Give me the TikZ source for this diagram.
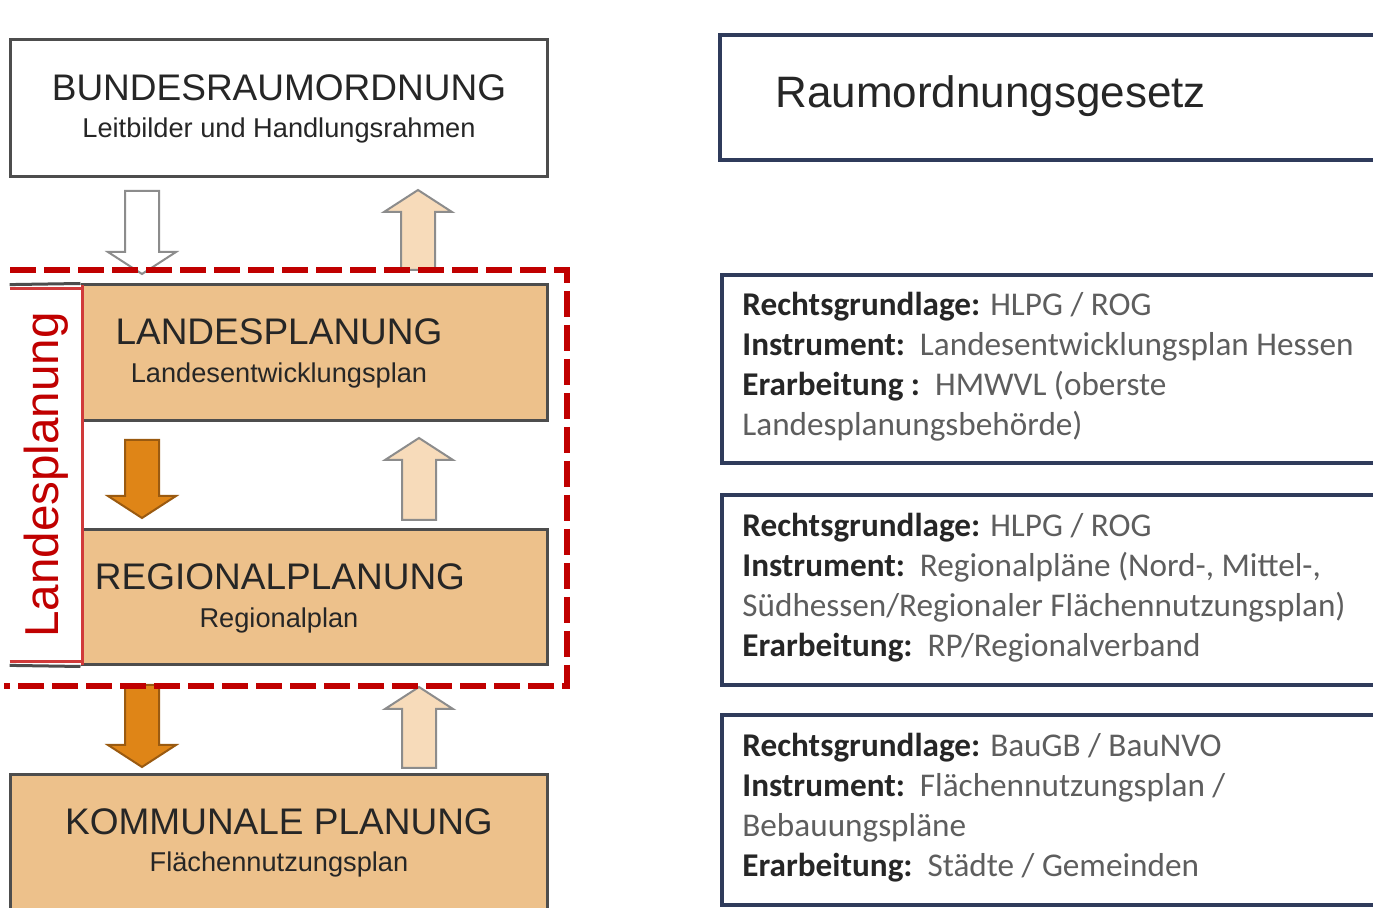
\documentclass[tikz,border=0pt]{standalone}
\usepackage{fontspec}
\setmainfont{Liberation Sans}
\newfontfamily\calfont{Carlito}
\definecolor{tanfill}{HTML}{EDC18B}
\definecolor{boxline}{HTML}{4D4D4D}
\definecolor{orangearr}{HTML}{DF8517}
\definecolor{orangeline}{HTML}{9A5A10}
\definecolor{lighttan}{HTML}{F7DBBA}
\definecolor{arrline}{HTML}{8C8C8C}
\definecolor{dred}{HTML}{C00000}
\definecolor{lred}{HTML}{D03A3A}
\definecolor{navy}{HTML}{2F3B5B}
\definecolor{txtdark}{HTML}{262626}
\definecolor{txtgrey}{HTML}{5E5E5E}
\newcommand{\blkdown}[4]{%
  \draw[#1] ({#2-17},#3) -- ({#2+17},#3) -- ({#2+17},{#4-22}) -- ({#2+34},{#4-22})
    -- (#2,#4) -- ({#2-34},{#4-22}) -- ({#2-17},{#4-22}) -- cycle;}
\newcommand{\blkup}[4]{%
  \draw[#1] ({#2-17},#3) -- ({#2+17},#3) -- ({#2+17},{#4+22}) -- ({#2+34},{#4+22})
    -- (#2,#4) -- ({#2-34},{#4+22}) -- ({#2-17},{#4+22}) -- cycle;}
\begin{document}
\begin{tikzpicture}[x=0.5pt,y=-0.5pt,
  lbox/.style={draw=boxline, line width=1.5pt, inner sep=0pt},
  tanbox/.style={lbox, fill=tanfill},
  title/.style={anchor=base, font=\fontsize{18.5}{20}\selectfont, text=txtdark, inner sep=0pt},
  sub/.style={anchor=base, font=\fontsize{13.6}{15}\selectfont, text=txtdark, inner sep=0pt},
  rbox/.style={draw=navy, line width=2pt, fill=white, inner sep=0pt},
  rline/.style={anchor=base west, inner sep=0pt, font=\calfont\fontsize{16.6}{20}\selectfont, text=txtgrey},
  whitearr/.style={fill=white, draw=arrline, line width=1pt, line join=miter},
  tanarr/.style={fill=lighttan, draw=arrline, line width=1pt, line join=miter},
  orarr/.style={fill=orangearr, draw=orangeline, line width=1pt, line join=miter},
  reddash/.style={draw=dred, line width=3pt, dash pattern=on 13pt off 4pt},
  redline/.style={draw=lred, line width=1.2pt}
]
\useasboundingbox (0,0) rectangle (1373,908);
\clip (0,0) rectangle (1373,908);
\fill[white] (0,0) rectangle (1373,908);

% ---------- left column ----------
\node[lbox, fill=white, minimum width=268.5pt, minimum height=68.5pt] (bund) at (278.5,108.5) {};
\node[title] (bundT) at (279,101) {BUNDESRAUMORDNUNG};
\node[sub] (bundS) at (279,138) {Leitbilder und Handlungsrahmen};

% label box Landesplanung (white, no left border)
\node[fill=white, minimum width=36pt, minimum height=190pt, inner sep=0pt] (lp) at (46,475) {};

\node[tanbox, minimum width=232.5pt, minimum height=68pt] (land) at (314.5,353) {};
\node[title] (landT) at (279,345) {LANDESPLANUNG};
\node[sub] (landS) at (279,383) {Landesentwicklungsplan};

\node[tanbox, minimum width=232.5pt, minimum height=67.5pt] (reg) at (314.5,597.5) {};
\node[title] (regT) at (280,590) {REGIONALPLANUNG};
\node[sub] (regS) at (279,628) {Regionalplan};

% frame lines of the label box
\draw[boxline, line width=1.5pt] (lp.north west) -- (land.north west);
\draw[boxline, line width=1.5pt] (lp.south west) -- (reg.south west);
\draw[redline] ([yshift=-2pt]lp.north west) -- ([yshift=-2pt]lp.north east);
\draw[redline] ([yshift=2pt]lp.south west) -- ([yshift=2pt]lp.south east);
\draw[redline] (lp.north east) -- (lp.south east);
\node[anchor=base, rotate=90, text=dred, font=\fontsize{23.8}{26}\selectfont, inner sep=0pt] (lpT) at (58,475) {Landesplanung};

\node[tanbox, minimum width=268.5pt, minimum height=82.5pt] (komm) at (278.5,857.5) {};
\node[title] (kommT) at (279,835) {KOMMUNALE PLANUNG};
\node[sub] (kommS) at (279,872) {Flächennutzungsplan};

% block arrows
\blkdown{whitearr}{142}{191}{274}
\blkup{tanarr}{418}{270}{190}
\blkdown{orarr}{142}{440}{518}
\blkup{tanarr}{419}{520}{438}
\blkdown{orarr}{142}{685}{767}
\blkup{tanarr}{419}{768}{687}

% red dashed frame
\coordinate (dTL) at (10,270);
\coordinate (dTR) at (567,270);
\coordinate (dBR) at (567,686);
\coordinate (dBL) at (4,686);
\draw[reddash] (dTL) -- (dTR) -- (dBR) -- (dBL);

% ---------- right column ----------
\node[rbox, minimum width=340pt, minimum height=62.5pt] (rog) at (1060,97.5) {};
\node[anchor=base west, inner sep=0pt, font=\fontsize{22}{24}\selectfont, text=txtdark] (rogT) at (775,108) {Raumordnungsgesetz};

\node[rbox, minimum width=339pt, minimum height=94pt] (b1) at (1061,369) {};
\node[rline] (b1a) at (742,316) {\textbf{\color{txtdark}Rechtsgrundlage:} HLPG / ROG};
\node[rline] (b1b) at (742,356) {\textbf{\color{txtdark}Instrument:}\ \ Landesentwicklungsplan Hessen};
\node[rline] (b1c) at (742,396) {\textbf{\color{txtdark}Erarbeitung :}\ \ HMWVL (oberste};
\node[rline] (b1d) at (742,436) {Landesplanungsbehörde)};

\node[rbox, minimum width=339pt, minimum height=95pt] (b2) at (1061,590) {};
\node[rline] (b2a) at (742,537) {\textbf{\color{txtdark}Rechtsgrundlage:} HLPG / ROG};
\node[rline] (b2b) at (742,577) {\textbf{\color{txtdark}Instrument:}\ \ Regionalpläne (Nord-, Mittel-,};
\node[rline] (b2c) at (742,617) {Südhessen/Regionaler Flächennutzungsplan)};
\node[rline] (b2d) at (742,657) {\textbf{\color{txtdark}Erarbeitung:}\ \ RP/Regionalverband};

\node[rbox, minimum width=339pt, minimum height=95pt] (b3) at (1061,810) {};
\node[rline] (b3a) at (742,757) {\textbf{\color{txtdark}Rechtsgrundlage:} BauGB / BauNVO};
\node[rline] (b3b) at (742,797) {\textbf{\color{txtdark}Instrument:}\ \ Flächennutzungsplan /};
\node[rline] (b3c) at (742,837) {Bebauungspläne};
\node[rline] (b3d) at (742,877) {\textbf{\color{txtdark}Erarbeitung:}\ \ Städte / Gemeinden};
\end{tikzpicture}
\end{document}
